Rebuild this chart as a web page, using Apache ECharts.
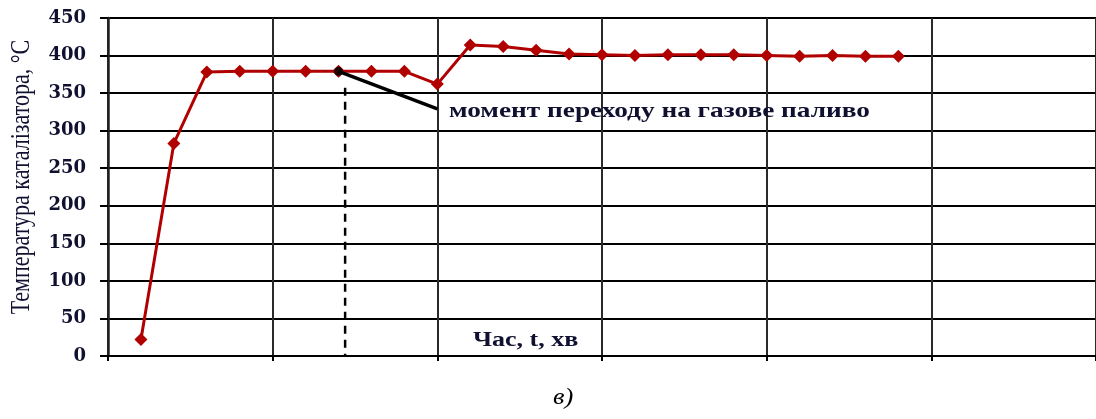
<!DOCTYPE html>
<html>
<head>
<meta charset="utf-8">
<script src="https://cdn.jsdelivr.net/npm/echarts@6/dist/echarts.min.js"></script>
<style>
html,body{margin:0;padding:0;background:#fff;}
#c{width:1096px;height:419px;}
</style>
</head>
<body>
<div id="c"></div>
<script>
const timePoints = [1,2,3,4,5,6,7,8,9,10,11,12,13,14,15,16,17,18,19,20,21,22,23,24];
const temperature = [22,283,378,379,379,379,379,379,379,362,414,412,407,402,401,400,401,401,401,400,399,400,399,399];
const yTicks = {min:0, max:450, step:50};
const switchMoment = 7.2;
const arrowLine = [[7,379],[10,329]];
const annotationText = 'момент переходу на газове паливо';
const xAxisTitle = 'Час, t, хв';
const yAxisTitle = 'Температура каталізатора, °C';
const caption = 'в)';

const chart = echarts.init(document.getElementById('c'), null, {renderer:'canvas'});
const textColor = '#101030';
const serif = '"Liberation Serif","DejaVu Serif",serif';
chart.setOption({
  animation:false,
  backgroundColor:'#fff',
  grid:{left:108, top:18, bottom:63, right:-5},
  xAxis:{
    type:'value', min:0, max:30, interval:5,
    axisLine:{show:true, lineStyle:{color:'#000', width:2}},
    axisTick:{show:true, length:5, lineStyle:{color:'#000', width:2}},
    axisLabel:{show:false},
    splitLine:{show:true, lineStyle:{color:'#2a2a2a', width:2}}
  },
  yAxis:{
    type:'value', min:yTicks.min, max:yTicks.max, interval:yTicks.step,
    axisLine:{show:true, lineStyle:{color:'#222', width:2.5}},
    axisTick:{show:true, length:8, lineStyle:{color:'#000', width:2}},
    axisLabel:{color:textColor, fontFamily:'"DejaVu Serif",serif', fontWeight:'bold', fontSize:18, margin:22},
    splitLine:{show:true, lineStyle:{color:'#000', width:2}}
  },
  series:[
    {
      type:'line',
      data:timePoints.map((t,i)=>[t,temperature[i]]),
      symbol:'diamond', symbolSize:13,
      lineStyle:{color:'#b00000', width:3},
      itemStyle:{color:'#b00000'},
      z:5
    },
    {
      type:'line',
      data:[[switchMoment,357],[switchMoment,0]],
      symbol:'none',
      lineStyle:{color:'#000', width:2.5, type:[8,6]},
      z:4
    },
    {
      type:'line',
      data:arrowLine,
      symbol:'none',
      lineStyle:{color:'#000', width:3.5},
      z:6
    },
    {
      type:'scatter',
      data:[arrowLine[0]],
      symbol:'circle', symbolSize:9,
      itemStyle:{color:'#000'},
      z:7
    }
  ],
  graphic:[
    {type:'text', x:449, y:101, scaleX:1.3, z:10, style:{text:annotationText, fill:textColor, font:'bold 21px '+serif}},
    {type:'text', x:473, y:331, scaleX:1.3, z:10, style:{text:xAxisTitle, fill:textColor, font:'bold 20px '+serif}},
    {type:'text', x:553, y:386, scaleX:1.15, z:10, style:{text:caption, fill:'#000', font:'italic 23px '+serif}},
    {type:'text', x:8, y:177, rotation:Math.PI/2, scaleY:1.25, z:10,
      style:{text:yAxisTitle, fill:textColor, font:'22px '+serif, textAlign:'center', textVerticalAlign:'top'}}
  ]
});
</script>
</body>
</html>
